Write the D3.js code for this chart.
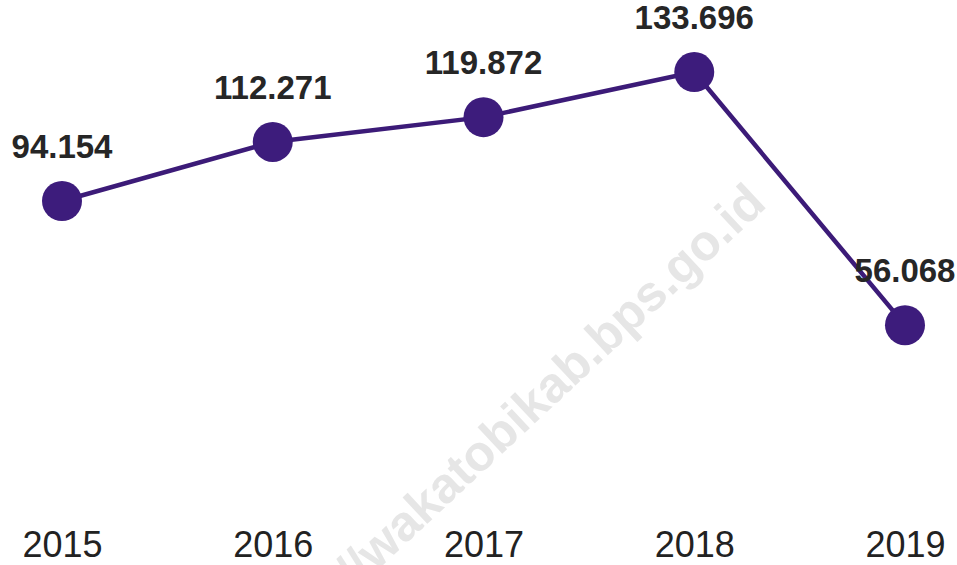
<!DOCTYPE html>
<html>
<head>
<meta charset="utf-8">
<script src="https://cdn.jsdelivr.net/npm/d3@7"></script>
<style>
  body { margin: 0; background: #fff; }
  svg { display: block; font-family: "Liberation Sans", Arial, sans-serif; }
</style>
</head>
<body>
<svg id="chart" width="957" height="565"></svg>
<script>
const years = ["2015", "2016", "2017", "2018", "2019"];
const values = [94.154, 112.271, 119.872, 133.696, 56.068];
const valueLabels = ["94.154", "112.271", "119.872", "133.696", "56.068"];
const watermark = "https://wakatobikab.bps.go.id";

const width = 957;
const height = 565;
const svg = d3.select("#chart");

const data = years.map((y, i) => ({ year: y, value: values[i], label: valueLabels[i] }));

const x = d3.scalePoint()
  .domain(years)
  .range([62, 905]);

const y = d3.scaleLinear()
  .domain([0, 155.8])
  .range([508, 0]);

// watermark, drawn first so it sits behind everything
svg.append("text")
  .attr("transform", "translate(768,206) rotate(-43)")
  .attr("text-anchor", "end")
  .attr("font-size", 50)
  .attr("font-weight", "bold")
  .attr("fill", "#e6e6e6")
  .text(watermark);

// year labels (x axis without line or ticks)
const xAxis = svg.append("g")
  .attr("transform", `translate(0,${height - 8})`)
  .call(d3.axisBottom(x).tickSize(0).tickPadding(0));
xAxis.select(".domain").remove();
xAxis.selectAll("text")
  .attr("font-size", 36)
  .attr("font-family", "'Liberation Sans', Arial, sans-serif")
  .attr("fill", "#222")
  .attr("dy", 0);

const line = d3.line()
  .x(d => x(d.year))
  .y(d => y(d.value));

svg.append("path")
  .datum(data)
  .attr("d", line)
  .attr("fill", "none")
  .attr("stroke", "#3c1b78")
  .attr("stroke-width", 4.5);

svg.append("g")
  .selectAll("circle")
  .data(data)
  .join("circle")
  .attr("cx", d => x(d.year))
  .attr("cy", d => y(d.value))
  .attr("r", 20)
  .attr("fill", "#3d1c7c");

svg.append("g")
  .selectAll("text")
  .data(data)
  .join("text")
  .attr("x", d => x(d.year))
  .attr("y", d => y(d.value) - 43)
  .attr("text-anchor", "middle")
  .attr("font-size", 33)
  .attr("font-weight", "bold")
  .attr("fill", "#262626")
  .text(d => d.label);
</script>
</body>
</html>
